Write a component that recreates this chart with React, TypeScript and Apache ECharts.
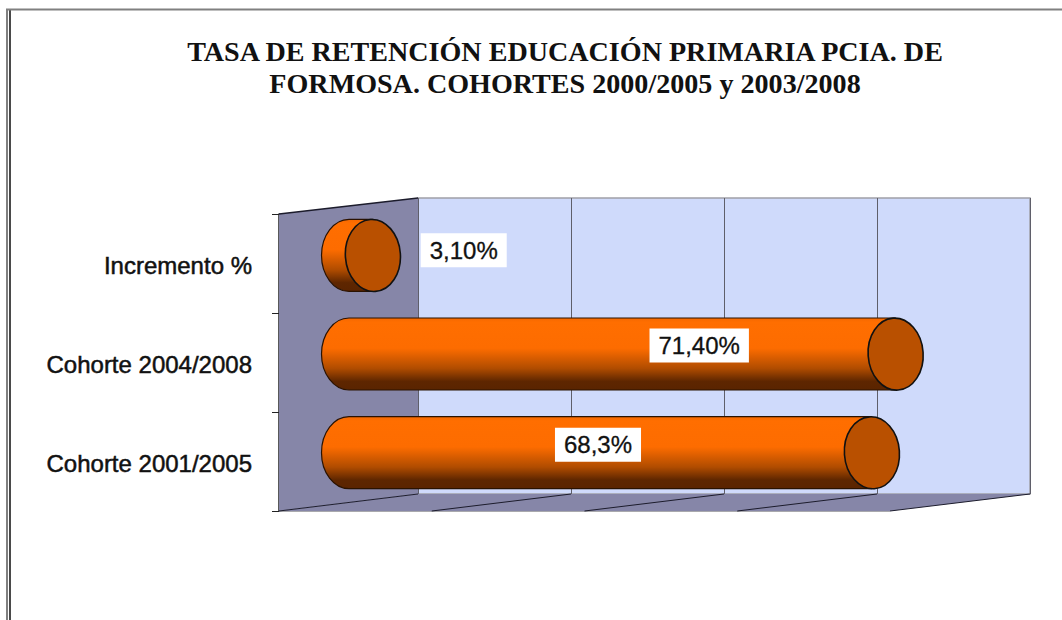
import React, { useEffect, useRef } from "react";
import * as echarts from "echarts";

const titleLines = [
  "TASA DE RETENCIÓN EDUCACIÓN PRIMARIA PCIA. DE",
  "FORMOSA. COHORTES 2000/2005 y 2003/2008",
];
const categories = ["Cohorte 2001/2005", "Cohorte 2004/2008", "Incremento %"];
const values = [68.3, 71.4, 3.1];
const valueLabels = ["68,3%", "71,40%", "3,10%"];
const labelShiftX = [-273.5, -196, 91];
const labelShiftY = [-8, -8.5, -5];
const xTicks = [0, 20, 40, 60, 80];

const SANS = "'Liberation Sans', Arial, sans-serif";
const SERIF = "'Liberation Serif', 'Times New Roman', serif";
const WALL = "#8686A8";

const bodyGradient = () =>
  new echarts.graphic.LinearGradient(0, 0, 0, 1, [
    { offset: 0, color: "#F56800" },
    { offset: 0.06, color: "#FF6E00" },
    { offset: 0.42, color: "#FD6C00" },
    { offset: 0.7, color: "#B04C00" },
    { offset: 0.88, color: "#5E2600" },
    { offset: 1, color: "#5A2400" },
  ]);

function renderCylinder(params: any, api: any) {
  const i = params.dataIndex;
  const base = api.coord([0, api.value(1)]);
  const end = api.coord([api.value(0), api.value(1)]);
  const ry = api.size([0, 1])[1] * 0.365;
  const rx = 27.5;
  const cy = end[1];
  const top = cy - ry;
  const bot = cy + ry;
  const d = `M ${base[0]} ${top} L ${end[0]} ${top} L ${end[0]} ${bot} L ${base[0]} ${bot} A ${rx} ${ry} 0 0 1 ${base[0]} ${top} Z`;
  return {
    type: "group",
    children: [
      {
        type: "path",
        shape: { pathData: d },
        style: { fill: bodyGradient(), stroke: "#2a1200", lineWidth: 1.2 },
      },
      {
        type: "ellipse",
        shape: { cx: end[0], cy, rx, ry },
        originX: end[0],
        originY: cy,
        rotation: 0.07,
        style: { fill: "#B95000", stroke: "#111", lineWidth: 1.6 },
      },
      {
        type: "text",
        x: end[0] + labelShiftX[i],
        y: cy + labelShiftY[i],
        style: {
          text: valueLabels[i],
          fontFamily: SANS,
          fontSize: 24,
          fill: "#111",
          stroke: "#111",
          lineWidth: 0.3,
          align: "center",
          verticalAlign: "middle",
          backgroundColor: "#fff",
          padding: [5, 9, 5, 9],
        },
      },
    ],
  };
}

export default function App() {
  const ref = useRef<HTMLDivElement>(null);
  useEffect(() => {
    document.body.style.margin = "0";
    const chart = echarts.init(ref.current!, null, { renderer: "svg" });
    const floorLines = xTicks.map((_, k) => ({
      type: "line",
      z: 1,
      shape: { x1: 279 + k * 152.75, y1: 511, x2: 418 + k * 153, y2: 494 },
      style: { stroke: "#1c1c2c", lineWidth: 1 },
    }));
    chart.setOption({
      animation: false,
      backgroundColor: "#ffffff",
      title: {
        text: titleLines.join("\n"),
        left: 560,
        top: 30,
        textAlign: "center",
        textStyle: {
          fontFamily: SERIF,
          fontWeight: "bold",
          fontSize: 28.1,
          lineHeight: 32,
          color: "#111",
        },
      },
      grid: [
        { left: 279, top: 214, width: 139, height: 297 },
        { left: 349, top: 206, width: 612, height: 296 },
        {
          left: 418,
          top: 198,
          width: 612,
          height: 296,
          show: true,
          backgroundColor: "#CFDAFB",
          borderColor: "#a0a0a8",
          borderWidth: 1.5,
        },
        { left: 279, top: 216, width: 139, height: 297 },
      ],
      xAxis: [
        { gridIndex: 0, type: "value", min: 0, max: 80, show: false },
        { gridIndex: 1, type: "value", min: 0, max: 80, interval: 20, show: false },
        {
          gridIndex: 2,
          type: "value",
          min: 0,
          max: 80,
          interval: 20,
          axisLine: { show: false },
          axisTick: { show: false },
          axisLabel: { show: false },
          splitLine: { show: true, lineStyle: { color: "#5f5f6a", width: 1 } },
        },
        { gridIndex: 3, type: "value", min: 0, max: 80, show: false },
      ],
      yAxis: [
        {
          gridIndex: 0,
          type: "category",
          data: categories,
          axisLine: { show: true, lineStyle: { color: "#222", width: 1.5 } },
          axisTick: { show: true, length: 7, lineStyle: { color: "#222" } },
          axisLabel: { show: false },
          splitLine: { show: false },
        },
        { gridIndex: 1, type: "category", data: categories, show: false },
        { gridIndex: 2, type: "category", data: categories, show: false },
        {
          gridIndex: 3,
          type: "category",
          data: categories,
          axisLine: { show: false },
          axisTick: { show: false },
          axisLabel: {
            margin: 27,
            fontFamily: SANS,
            fontSize: 24,
            color: "#111",
            textBorderColor: "#111",
            textBorderWidth: 0.5,
          },
          splitLine: { show: false },
        },
      ],
      series: [
        {
          type: "custom",
          xAxisIndex: 1,
          yAxisIndex: 1,
          z: 5,
          clip: false,
          renderItem: renderCylinder,
          encode: { x: 0, y: 1 },
          data: values.map((v, i) => [v, i]),
        },
      ],
      graphic: [
        {
          type: "polygon",
          z: 1,
          shape: { points: [[279, 214], [418, 198], [418, 494], [279, 511]] },
          style: { fill: WALL },
        },
        {
          type: "polygon",
          z: 1,
          shape: { points: [[279, 511], [418, 494], [1030, 494], [890, 511]] },
          style: { fill: WALL },
        },
        {
          type: "line",
          z: 1,
          shape: { x1: 279, y1: 214, x2: 418, y2: 198 },
          style: { stroke: "#1c1c2c", lineWidth: 1.4 },
        },
        {
          type: "line",
          z: 1,
          shape: { x1: 279, y1: 511.5, x2: 890, y2: 511.5 },
          style: { stroke: "#a9a9ad", lineWidth: 1 },
        },
        ...floorLines,
        { type: "line", shape: { x1: 7, y1: 9, x2: 7, y2: 620 }, style: { stroke: "#808080", lineWidth: 2 } },
        { type: "line", shape: { x1: 10, y1: 10, x2: 10, y2: 620 }, style: { stroke: "#4a4a4a", lineWidth: 2 } },
        { type: "line", shape: { x1: 6, y1: 9.5, x2: 1062, y2: 9.5 }, style: { stroke: "#808080", lineWidth: 2 } },
      ],
    });
    return () => chart.dispose();
  }, []);
  return <div ref={ref} style={{ width: 1062, height: 620 }} />;
}
